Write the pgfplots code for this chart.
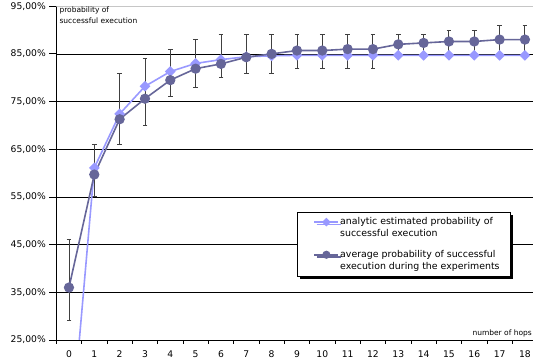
\documentclass[border=0pt]{standalone}
\usepackage{pgfplots}
\pgfplotsset{compat=1.18}
\usepackage{fontspec}
\setmainfont{DejaVu Sans}
\usetikzlibrary{shadows}
\definecolor{lightser}{HTML}{9999FF}
\definecolor{darkser}{HTML}{666699}
\definecolor{errc}{HTML}{404040}
\begin{document}
\begin{tikzpicture}
\useasboundingbox (0,0) rectangle (533pt,362pt);
\begin{axis}[
  at={(56.3pt,22pt)}, anchor=south west,
  scale only axis, width=481.3pt, height=333.8pt,
  xmin=-0.5, xmax=18.5, ymin=25, ymax=95,
  axis x line*=bottom, axis y line*=left,
  axis line style={black, line width=0.8pt},
  tick align=outside,
  xtick={0,...,18},
  major x tick style={draw=none},
  minor xtick={-0.5,0.5,...,18.5},
  minor x tick style={black, line width=0.8pt},
  minor tick length=4pt,
  ytick={25,35,...,95},
  major y tick style={black, line width=0.8pt},
  major tick length=7pt,
  ymajorgrids,
  grid style={black, line width=0.7pt},
  xticklabel={\pgfmathparse{int(\tick)}\pgfmathresult},
  yticklabel={\pgfmathparse{int(\tick)}\pgfmathresult,00\%},
  tick label style={font=\fontsize{9.2}{11}\selectfont},
  legend style={at={(rel axis cs:0.5007,0.3835)}, anchor=north west,
    draw=black, line width=0.6pt, fill=white,
    drop shadow={shadow xshift=2.5pt, shadow yshift=-2.5pt, fill=black, opacity=1},
    font=\fontsize{9.4}{12}\selectfont,
    cells={align=left, anchor=west},
    nodes={inner xsep=1pt},
    inner xsep=9.5pt, inner ysep=3.5pt, row sep=8pt},
  legend image code/.code={\path (0pt,6pt); \draw[mark repeat=2,mark phase=2,/tikz/every mark/.append style={scale=0.75},#1] plot coordinates {(6.5pt,6pt) (18.5pt,6pt) (30.5pt,6pt)};},
]
\draw[gray!45, line width=0.9pt] (rel axis cs:0,1) -- (rel axis cs:1,1);
\addplot[forget plot, only marks, mark=none,
  error bars/.cd, y dir=both, y explicit,
  error bar style={errc, line width=0.9pt},
  error mark options={errc, rotate=90, mark size=2.3pt, line width=0.9pt}]
coordinates {
(0,36.0) += (0,10.0) -= (0,7.0)
(1,59.7) += (0,6.3) -= (0,4.7)
(2,71.3) += (0,9.7) -= (0,5.3)
(3,75.6) += (0,8.4) -= (0,5.6)
(4,79.5) += (0,6.5) -= (0,3.5)
(5,81.9) += (0,6.1) -= (0,3.9)
(6,82.9) += (0,6.1) -= (0,2.9)
(7,84.3) += (0,4.7) -= (0,3.3)
(8,85.0) += (0,4.0) -= (0,4.0)
(9,85.7) += (0,3.3) -= (0,3.7)
(10,85.7) += (0,3.3) -= (0,3.7)
(11,86.0) += (0,3.0) -= (0,4.0)
(12,86.0) += (0,3.0) -= (0,4.0)
(13,87.0) += (0,2.0) -= (0,2.0)
(14,87.3) += (0,1.7) -= (0,2.3)
(15,87.6) += (0,2.4) -= (0,2.6)
(16,87.6) += (0,2.4) -= (0,2.6)
(17,88.0) += (0,3.0) -= (0,3.0)
(18,88.0) += (0,3.0) -= (0,3.0)
};
\addplot[lightser, line width=1.6pt, mark=square*, mark size=3pt, mark options={rotate=45, solid}]
coordinates {
(0,0) (1,61.1) (2,72.4) (3,78.2) (4,81.3) (5,83.0) (6,83.8) (7,84.4) (8,84.6)
(9,84.7) (10,84.7) (11,84.7) (12,84.7) (13,84.7) (14,84.7) (15,84.7) (16,84.7) (17,84.7) (18,84.7)
};
\addlegendentry{analytic estimated probability of\\successful execution}
\addplot[darkser, line width=1.6pt, mark=*, mark size=4.3pt, mark options={solid}]
coordinates {
(0,36.0) (1,59.7) (2,71.3) (3,75.6) (4,79.5) (5,81.9) (6,82.9) (7,84.3) (8,85.0)
(9,85.7) (10,85.7) (11,86.0) (12,86.0) (13,87.0) (14,87.3) (15,87.6) (16,87.6) (17,88.0) (18,88.0)
};
\addlegendentry{average probability of successful\\execution during the experiments}
\node[anchor=north west, align=left, inner sep=0pt, xshift=3pt, yshift=-0.5pt,
  font=\fontsize{7.5}{10.5}\selectfont] at (rel axis cs:0,1) {probability of\\successful execution};
\end{axis}
\node[anchor=base east, inner sep=0pt, font=\fontsize{7.5}{9}\selectfont] at (532pt,27pt) {number of hops};
\end{tikzpicture}
\end{document}
